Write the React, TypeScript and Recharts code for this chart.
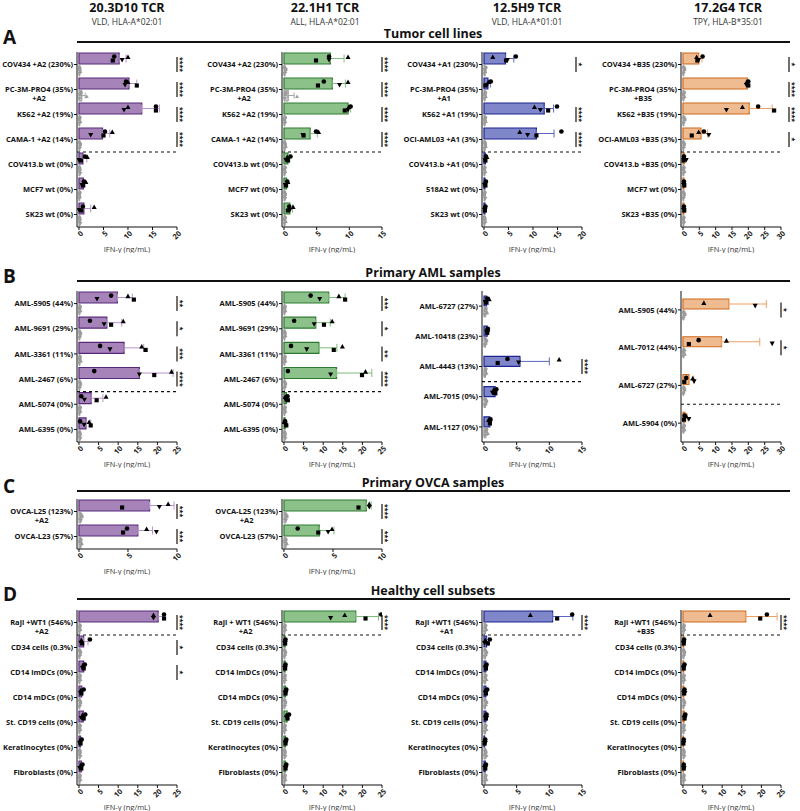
import React from "react";
import {
  ComposedChart,
  Bar,
  Scatter,
  XAxis,
  YAxis,
  ErrorBar,
  ReferenceLine,
} from "recharts";

// ---- headers ----
const TCRS = ["20.3D10 TCR", "22.1H1 TCR", "12.5H9 TCR", "17.2G4 TCR"];
const EPITOPES = ["VLD, HLA-A*02:01", "ALL, HLA-A*02:01", "VLD, HLA-A*01:01", "TPY, HLA-B*35:01"];
const SECTION_LETTERS = ["A", "B", "C", "D"];
const SECTION_TITLES = ["Tumor cell lines", "Primary AML samples", "Primary OVCA samples", "Healthy cell subsets"];

const TICKS_10 = [0, 5, 10];
const TICKS_15 = [0, 5, 10, 15];
const TICKS_20 = [0, 5, 10, 15, 20];
const TICKS_25 = [0, 5, 10, 15, 20, 25];
const TICKS_30 = [0, 5, 10, 15, 20, 25, 30];

// replicate order in every row: circle, square, triangle, inverted triangle

// ---- A: tumor cell lines ----
const A1_LABELS = ["COV434 +A2 (230%)", "PC-3M-PRO4 (35%)\n+A2", "K562 +A2 (19%)", "CAMA-1 +A2 (14%)", "COV413.b wt (0%)", "MCF7 wt (0%)", "SK23 wt (0%)"];
const A1_MEAN = [8.2, 10.2, 12.8, 4.8, 0.8, 0.9, 1.0];
const A1_SD = [1.4, 1.6, 3.6, 1.5, 0.8, 0.4, 1.4];
const A1_REPS = [[7.2, 6.9, 10.0, 8.8], [9.6, 11.8, 10.0, 9.4], [15.7, 15.7, 10.0, 9.2], [5.3, 5.0, 6.8, 2.4], [1.2, 0.4, 1.7, 0.0], [1.0, 0.8, 1.4, 0.6], [0.8, 0.5, 3.1, 0.0]];
const A1_MOCK = [[0.1, 0.2, 0.3, 0.1], [0.4, 0.2, 1.6, 0.1], [0.2, 0.1, 0.3, 0.1], [0.1, 0.3, 0.2, 0.1], [0.1, 0.2, 0.1, 0.3], [0.2, 0.1, 0.2, 0.1], [0.1, 0.2, 0.1, 0.3]];
const A1_SIG = ["****", "****", "****", "****", "", "", ""];

const A2_MEAN = [7.1, 7.4, 9.8, 4.0, 0.6, 0.4, 0.9];
const A2_SD = [2.1, 2.0, 0.4, 1.1, 0.3, 0.2, 0.4];
const A2_REPS = [[6.9, 4.9, 9.8, 6.9], [6.1, 5.2, 9.8, 8.5], [10.2, 9.3, 9.9, 9.8], [4.9, 3.0, 5.3, 2.9], [1.0, 0.6, 0.5, 0.3], [0.5, 0.3, 0.6, 0.2], [0.8, 0.6, 1.4, 0.9]];
const A2_MOCK = [[0.1, 0.3, 0.2, 0.1], [0.3, 0.2, 2.0, 0.1], [0.2, 0.1, 0.2, 0.1], [0.1, 0.2, 0.3, 0.1], [0.2, 0.1, 0.2, 0.1], [0.1, 0.2, 0.1, 0.2], [0.2, 0.1, 0.3, 0.1]];
const A2_SIG = ["****", "****", "****", "****", "", "", ""];

const A3_LABELS = ["COV434 +A1 (230%)", "PC-3M-PRO4 (35%)\n+A1", "K562 +A1 (19%)", "OCI-AML03 +A1 (3%)", "COV413.b +A1 (0%)", "518A2 wt (0%)", "SK23 wt (0%)"];
const A3_MEAN = [4.4, 0.8, 12.3, 10.7, 0.3, 0.2, 0.2];
const A3_SD = [1.7, 0.5, 1.9, 3.6, 0.2, 0.1, 0.1];
const A3_REPS = [[6.5, 4.5, 1.8, 4.8], [1.4, 0.3, 0.9, 0.6], [14.9, 13.1, 10.3, 11.5], [15.8, 10.7, 7.3, 8.9], [0.4, 0.3, 0.6, 0.2], [0.4, 0.3, 0.2, 0.1], [0.3, 0.2, 0.1, 0.2]];
const A3_MOCK = [[0.4, 0.2, 0.3, 0.1], [0.3, 0.2, 0.4, 0.1], [0.3, 0.2, 0.4, 0.1], [0.2, 0.3, 0.4, 0.1], [0.2, 0.1, 0.3, 0.1], [0.2, 0.1, 0.2, 0.3], [0.1, 0.2, 0.3, 0.1]];
const A3_SIG = ["*", "", "****", "****", "", "", ""];

const A4_LABELS = ["COV434 +B35 (230%)", "PC-3M-PRO4 (35%)\n+B35", "K562 +B35 (19%)", "OCI-AML03 +B35 (3%)", "COV413.b +B35 (0%)", "MCF7 wt (0%)", "SK23 +B35 (0%)"];
const A4_MEAN = [4.8, 19.7, 20.3, 5.5, 0.4, 0.3, 0.3];
const A4_SD = [1.0, 0.3, 7.0, 2.0, 0.3, 0.1, 0.1];
const A4_REPS = [[6.0, 4.4, 4.2, 4.8], [20.0, 20.0, 19.5, 19.4], [23.0, 27.9, 18.2, 13.3], [6.4, 2.7, 4.8, 7.9], [0.3, 0.2, 0.2, 1.0], [0.3, 0.4, 0.2, 0.3], [0.3, 0.4, 0.2, 0.3]];
const A4_MOCK = [[0.3, 0.5, 0.2, 0.1], [0.4, 0.2, 0.5, 0.1], [0.3, 0.6, 0.2, 0.1], [0.2, 0.4, 0.3, 0.1], [0.3, 0.2, 0.5, 0.1], [0.2, 0.4, 0.3, 0.1], [0.3, 0.1, 0.4, 0.2]];
const A4_SIG = ["*", "****", "****", "*", "", "", ""];

// ---- B: primary AML samples ----
const B1_LABELS = ["AML-5905 (44%)", "AML-9691 (29%)", "AML-3361 (11%)", "AML-2467 (6%)", "AML-5074 (0%)", "AML-6395 (0%)"];
const B1_MEAN = [9.8, 7.1, 11.5, 15.4, 3.1, 1.8];
const B1_SD = [3.8, 3.8, 5.0, 8.6, 3.0, 1.2];
const B1_REPS = [[8.2, 14.0, 12.5, 4.6], [2.8, 8.2, 11.3, 6.4], [5.4, 17.0, 16.0, 7.9], [3.9, 19.2, 23.6, 15.4], [0.6, 4.5, 6.9, 1.4], [0.3, 3.0, 2.6, 1.3]];
const B1_MOCK = [[0.3, 0.2, 0.4, 0.1], [0.2, 0.4, 0.3, 0.1], [0.3, 0.2, 0.5, 0.1], [0.2, 0.4, 0.3, 0.1], [0.3, 0.2, 0.4, 0.1], [0.2, 0.3, 0.1, 0.4]];
const B1_SIG = ["**", "*", "***", "****", "", ""];

const B2_MEAN = [11.4, 8.1, 8.9, 13.4, 0.6, 0.3];
const B2_SD = [4.2, 3.7, 4.6, 9.0, 0.4, 0.3];
const B2_REPS = [[6.8, 15.6, 14.0, 9.1], [2.6, 10.2, 12.3, 7.7], [1.8, 12.7, 14.9, 5.8], [1.0, 19.9, 20.8, 11.9], [0.9, 1.0, 0.3, 0.4], [0.3, 0.6, 0.0, 0.4]];
const B2_MOCK = [[0.3, 0.2, 0.4, 0.1], [0.2, 0.3, 0.4, 0.1], [0.3, 0.2, 0.4, 0.1], [0.2, 0.4, 0.3, 0.1], [0.3, 0.2, 0.4, 0.1], [0.2, 0.3, 0.1, 0.4]];
const B2_SIG = ["***", "*", "**", "****", "", ""];

const B3_LABELS = ["AML-6727 (27%)", "AML-10418 (23%)", "AML-4443 (13%)", "AML-7015 (0%)", "AML-1127 (0%)"];
const B3_MEAN = [0.4, 0.5, 5.5, 1.7, 0.9];
const B3_SD = [0.3, 0.1, 4.5, 0.3, 0.2];
const B3_REPS = [[0.5, 0.3, 0.8, 0.2], [0.6, 0.5, 0.4, 0.6], [3.6, 2.1, 11.5, 5.3], [1.9, 1.7, 1.5, 1.3], [1.0, 0.9, 0.7, 0.9]];
const B3_MOCK = [[0.3, 0.2, 0.5, 0.1], [0.2, 0.4, 0.3, 0.1], [0.3, 0.2, 0.4, 0.1], [0.2, 0.4, 0.3, 0.1], [0.4, 0.2, 0.6, 0.1]];
const B3_SIG = ["", "", "****", "", ""];

const B4_LABELS = ["AML-5905 (44%)", "AML-7012 (44%)", "AML-6727 (27%)", "AML-5904 (0%)"];
const B4_MEAN = [14.0, 11.8, 1.8, 0.6];
const B4_SD = [11.5, 11.7, 1.5, 0.7];
const B4_REPS = [[null, null, 6.4, 22.1], [4.8, 1.8, 13.3, 27.3], [1.0, 0.4, 3.0, 3.4], [0.5, 0.3, 1.0, 1.8]];
const B4_MOCK = [[0.3, 0.6, 0.2, 0.1], [0.4, 0.2, 0.6, 0.1], [0.3, 0.5, 0.2, 0.1], [0.4, 0.2, 0.5, 0.1]];
const B4_SIG = ["*", "*", "", ""];

// ---- C: primary OVCA samples ----
const C_LABELS = ["OVCA-L25 (123%)\n+A2", "OVCA-L23 (57%)"];
const C1_MEAN = [7.2, 6.0];
const C1_SD = [2.5, 1.5];
const C1_REPS = [[null, 4.4, 9.1, 8.2], [4.9, 4.5, 6.9, 7.9]];
const C1_MOCK = [[0.2, 0.3, 0.1, 0.2], [0.2, 0.1, 0.3, 0.2]];
const C1_SIG = ["***", "***"];

const C2_MEAN = [8.4, 3.6];
const C2_SD = [0.5, 1.5];
const C2_REPS = [[null, 7.6, 8.7, 8.7], [1.4, 3.5, 4.9, 4.5]];
const C2_MOCK = [[0.2, 0.3, 0.1, 0.2], [0.2, 0.1, 0.3, 0.2]];
const C2_SIG = ["****", "***"];

// ---- D: healthy cell subsets ----
const D_REST = ["CD34 cells (0.3%)", "CD14 imDCs (0%)", "CD14 mDCs (0%)", "St. CD19 cells (0%)", "Keratinocytes (0%)", "Fibroblasts (0%)"];
const D1_LABELS = ["Raji +WT1 (546%)\n+A2", ...D_REST];
const D2_LABELS = ["Raji + WT1 (546%)\n+A2", ...D_REST];
const D3_LABELS = ["Raji +WT1 (546%)\n+A1", ...D_REST];
const D4_LABELS = ["Raji +WT1 (546%)\n+B35", ...D_REST];

const D1_MEAN = [20.2, 1.2, 1.2, 0.7, 1.1, 0.4, 0.6];
const D1_SD = [1.3, 1.1, 0.3, 0.3, 0.4, 0.2, 0.3];
const D1_REPS = [[21.7, 21.7, 19.0, 19.0], [2.8, 0.8, 0.6, 0.5], [1.5, 1.2, 1.0, 0.9], [1.2, 0.6, 0.5, 0.4], [1.6, 1.2, 0.9, 0.6], [0.7, 0.4, 0.3, 0.2], [0.9, 0.6, 0.5, 0.2]];
const D1_SIG = ["****", "*", "*", "", "", "", ""];

const D2_MEAN = [18.3, 0.3, 0.3, 0.4, 0.8, 0.4, 0.4];
const D2_SD = [5.8, 0.1, 0.1, 0.2, 0.4, 0.2, 0.2];
const D2_REPS = [[24.8, 20.8, 15.5, 11.9], [0.4, 0.3, 0.2, 0.3], [0.4, 0.3, 0.2, 0.3], [0.6, 0.4, 0.3, 0.5], [1.3, 0.9, 0.6, 0.8], [0.6, 0.4, 0.3, 0.5], [0.6, 0.4, 0.3, 0.5]];
const D2_SIG = ["****", "", "", "", "", "", ""];

const D3_MEAN = [10.5, 0.4, 0.3, 0.3, 0.3, 0.1, 0.2];
const D3_SD = [3.1, 0.3, 0.1, 0.1, 0.1, 0.1, 0.1];
const D3_REPS = [[13.5, 11.2, 7.1, null], [0.9, 0.6, 0.2, 0.1], [0.4, 0.3, 0.2, 0.3], [0.5, 0.3, 0.2, 0.3], [0.4, 0.3, 0.2, 0.4], [0.2, 0.1, 0.1, 0.2], [0.3, 0.2, 0.1, 0.2]];
const D3_SIG = ["****", "", "", "", "", "", ""];

const D4_MEAN = [16.0, 0.2, 0.2, 0.2, 0.3, 0.1, 0.1];
const D4_SD = [8.0, 0.1, 0.1, 0.1, 0.2, 0.1, 0.1];
const D4_REPS = [[21.4, 19.7, 6.9, null], [0.3, 0.2, 0.1, 0.2], [0.4, 0.2, 0.1, 0.2], [0.4, 0.3, 0.2, 0.5], [0.6, 0.4, 0.3, 0.5], [0.2, 0.1, 0.1, 0.2], [0.2, 0.2, 0.1, 0.3]];
const D4_SIG = ["****", "", "", "", "", "", ""];

const D_MOCK = [[0.3, 0.2, 0.4, 0.1], [0.2, 0.4, 0.3, 0.1], [0.3, 0.2, 0.4, 0.1], [0.2, 0.4, 0.3, 0.1], [0.3, 0.2, 0.4, 0.1], [0.2, 0.3, 0.1, 0.4], [0.3, 0.2, 0.4, 0.1]];

// ---- layout ----
const FONT = "'Open Sans', Lato, sans-serif";
const COL_X = [77, 282, 482, 681]; // x of each column's value axis
const HEAD_X = [127, 325, 527, 728];
const ROW_TOP = [52, 291, 499, 610];
const ROW_H = [175, 151, 50, 175];
const RULE_Y = [42, 281, 491, 599];
const PW = 100;
const YW = 92;
const RW = 19;
const MT = 2;
const XH = 26;

const PALETTE: Record<string, { fill: string; stroke: string; err: string }> = {
  purple: { fill: "#a684ba", stroke: "#57287a", err: "#b894cc" },
  green: { fill: "#8cc28a", stroke: "#2c7a30", err: "#7dbb7a" },
  blue: { fill: "#7f86c9", stroke: "#1d2590", err: "#5b67c2" },
  orange: { fill: "#efbb91", stroke: "#cf6a1c", err: "#efa062" },
};
const COLORS = ["purple", "green", "blue", "orange"];
const SYMBOLS = ["circle", "square", "triangle", "down"];
const JITTER = [-2, 2, -1.5, 1.5];
const GREY_JITTER = [-3, -1, 1, 3];

let measureCtx: CanvasRenderingContext2D | null = null;
function textWidth(s: string, font: string) {
  if (!measureCtx) measureCtx = document.createElement("canvas").getContext("2d");
  if (!measureCtx) return s.length * 4;
  measureCtx.font = font;
  return measureCtx.measureText(s).width;
}

const avg = (v: number[]) => v.reduce((a, b) => a + b, 0) / v.length;
const stdev = (v: number[]) => {
  const m = avg(v);
  return Math.sqrt(v.reduce((a, b) => a + (b - m) * (b - m), 0) / (v.length - 1));
};

function symbol(kind: string, x: number, y: number, s: number, fill: string) {
  const h = s * 0.55;
  if (kind === "circle") return <circle cx={x} cy={y} r={s * 0.5} fill={fill} />;
  if (kind === "square")
    return <rect x={x - s * 0.45} y={y - s * 0.45} width={s * 0.9} height={s * 0.9} fill={fill} />;
  if (kind === "triangle")
    return <polygon points={`${x},${y - h} ${x + h},${y + s * 0.45} ${x - h},${y + s * 0.45}`} fill={fill} />;
  return <polygon points={`${x},${y + h} ${x + h},${y - s * 0.45} ${x - h},${y - s * 0.45}`} fill={fill} />;
}

const pointShape = (key: string, kind: string, dy: number, size: number, fill: string) => (p: any) => {
  const v = p.payload ? p.payload[key] : null;
  if (v == null || p.cx == null || p.cy == null || isNaN(p.cx)) return <g />;
  return symbol(kind, p.cx, p.cy + dy, size, fill);
};

function YTick(p: any) {
  const { x, y, payload, index, sig, sigDx } = p;
  const font = `bold 7.5px ${FONT}`;
  const lines = String(payload.value).split("\n");
  const w0 = textWidth(lines[0], font);
  const stars: string = sig[index] || "";
  const sx = x + 4 + PW + sigDx;
  return (
    <g>
      {lines.map((ln, i) => (
        <text
          key={i}
          x={i === 0 ? x : x - w0 / 2}
          y={y + i * 9}
          dy="0.35em"
          textAnchor={i === 0 ? "end" : "middle"}
          fontFamily={FONT}
          fontWeight="bold"
          fontSize={7.5}
          fill="#111"
        >
          {ln}
        </text>
      ))}
      {stars && (
        <g>
          <line x1={sx} x2={sx} y1={y - 7.5} y2={y + 7.5} stroke="#111" strokeWidth={1.2} />
          <text
            transform={`translate(${sx + 5},${y}) rotate(90)`}
            x={0}
            y={0}
            dy="0.55em"
            textAnchor="middle"
            fontFamily={FONT}
            fontWeight="bold"
            fontSize={7}
            fill="#111"
          >
            {stars}
          </text>
        </g>
      )}
    </g>
  );
}

function XTick(p: any) {
  const { x, y, payload } = p;
  return (
    <g transform={`translate(${x + 3},${y}) rotate(-45)`}>
      <text x={0} y={0} dy="0.35em" textAnchor="end" fontFamily={FONT} fontWeight="bold" fontSize={7.5} fill="#222">
        {payload.value}
      </text>
    </g>
  );
}

interface PanelProps {
  labels: string[];
  mean: number[];
  sd: number[];
  reps: (number | null)[][];
  mock: number[][];
  sig: string[];
  dashAt: number;
  ticks: number[];
  col: number;
  row: number;
  barSize?: number;
  sigDx?: number;
}

function Panel({ labels, mean, sd, reps, mock, sig, dashAt, ticks, col, row, barSize = 11, sigDx = 0 }: PanelProps) {
  const c = PALETTE[COLORS[col]];
  const xMax = ticks[ticks.length - 1];
  const plotH = ROW_H[row];
  const data = labels.map((name, i) => {
    const d: any = {
      name,
      mean: mean[i],
      err: [0, sd[i]],
      mock: avg(mock[i]),
      mockErr: [0, stdev(mock[i])],
    };
    reps[i].forEach((v, k) => (d["r" + k] = v));
    mock[i].forEach((v, k) => (d["g" + k] = v));
    return d;
  });
  const half = (barSize + 1) / 2;
  return (
    <div style={{ position: "absolute", left: COL_X[col] - YW, top: ROW_TOP[row] - MT }}>
      <ComposedChart
        layout="vertical"
        width={YW + PW + RW}
        height={MT + plotH + XH}
        data={data}
        margin={{ top: MT, right: RW, bottom: 0, left: 0 }}
        barGap={1}
        barSize={barSize}
      >
        <XAxis
          type="number"
          domain={[-xMax * 0.02, xMax]}
          ticks={ticks}
          allowDataOverflow
          interval={0}
          height={XH}
          tickSize={3}
          axisLine={{ stroke: "#111", strokeWidth: 1 }}
          tickLine={{ stroke: "#111" }}
          tick={XTick}
          label={{
            value: "IFN-γ (ng/mL)",
            position: "insideBottom",
            offset: 1,
            fill: "#333",
            fontFamily: FONT,
            fontSize: 7.5,
          }}
        />
        <YAxis
          type="category"
          dataKey="name"
          width={YW}
          interval={0}
          tickSize={3}
          tickMargin={1}
          axisLine={{ stroke: "#111", strokeWidth: 1 }}
          tickLine={{ stroke: "#111" }}
          tick={(p: any) => <YTick {...p} sig={sig} sigDx={sigDx} />}
        />
        {dashAt >= 0 && (
          <ReferenceLine
            y={labels[dashAt]}
            position="start"
            stroke="#111"
            strokeWidth={1.2}
            strokeDasharray="3 3"
          />
        )}
        <Bar dataKey="mean" fill={c.fill} stroke={c.stroke} strokeWidth={1.2} isAnimationActive={false}>
          <ErrorBar dataKey="err" direction="x" width={4} stroke={c.err} strokeWidth={1} />
        </Bar>
        <Bar dataKey="mock" fill="#c9c9c9" stroke="#9a9a9a" strokeWidth={1} isAnimationActive={false}>
          <ErrorBar dataKey="mockErr" direction="x" width={3} stroke="#a5a5a5" strokeWidth={1} />
        </Bar>
        {SYMBOLS.map((kind, k) => (
          <Scatter
            key={"g" + k}
            dataKey={"g" + k}
            isAnimationActive={false}
            shape={pointShape("g" + k, kind, half + GREY_JITTER[k], 3.6, "#9b9b9b")}
          />
        ))}
        {SYMBOLS.map((kind, k) => (
          <Scatter
            key={"r" + k}
            dataKey={"r" + k}
            isAnimationActive={false}
            shape={pointShape("r" + k, kind, -half + JITTER[k], 4.6, "#000")}
          />
        ))}
      </ComposedChart>
    </div>
  );
}

const PANELS: PanelProps[] = [
  { labels: A1_LABELS, mean: A1_MEAN, sd: A1_SD, reps: A1_REPS, mock: A1_MOCK, sig: A1_SIG, dashAt: 4, ticks: TICKS_20, col: 0, row: 0 },
  { labels: A1_LABELS, mean: A2_MEAN, sd: A2_SD, reps: A2_REPS, mock: A2_MOCK, sig: A2_SIG, dashAt: 4, ticks: TICKS_15, col: 1, row: 0 },
  { labels: A3_LABELS, mean: A3_MEAN, sd: A3_SD, reps: A3_REPS, mock: A3_MOCK, sig: A3_SIG, dashAt: 4, ticks: TICKS_20, col: 2, row: 0, sigDx: -6 },
  { labels: A4_LABELS, mean: A4_MEAN, sd: A4_SD, reps: A4_REPS, mock: A4_MOCK, sig: A4_SIG, dashAt: 4, ticks: TICKS_30, col: 3, row: 0, sigDx: 8 },
  { labels: B1_LABELS, mean: B1_MEAN, sd: B1_SD, reps: B1_REPS, mock: B1_MOCK, sig: B1_SIG, dashAt: 4, ticks: TICKS_25, col: 0, row: 1 },
  { labels: B1_LABELS, mean: B2_MEAN, sd: B2_SD, reps: B2_REPS, mock: B2_MOCK, sig: B2_SIG, dashAt: 4, ticks: TICKS_25, col: 1, row: 1 },
  { labels: B3_LABELS, mean: B3_MEAN, sd: B3_SD, reps: B3_REPS, mock: B3_MOCK, sig: B3_SIG, dashAt: 3, ticks: TICKS_15, col: 2, row: 1, barSize: 10 },
  { labels: B4_LABELS, mean: B4_MEAN, sd: B4_SD, reps: B4_REPS, mock: B4_MOCK, sig: B4_SIG, dashAt: 3, ticks: TICKS_30, col: 3, row: 1, barSize: 10 },
  { labels: C_LABELS, mean: C1_MEAN, sd: C1_SD, reps: C1_REPS, mock: C1_MOCK, sig: C1_SIG, dashAt: -1, ticks: TICKS_10, col: 0, row: 2 },
  { labels: C_LABELS, mean: C2_MEAN, sd: C2_SD, reps: C2_REPS, mock: C2_MOCK, sig: C2_SIG, dashAt: -1, ticks: TICKS_10, col: 1, row: 2 },
  { labels: D1_LABELS, mean: D1_MEAN, sd: D1_SD, reps: D1_REPS, mock: D_MOCK, sig: D1_SIG, dashAt: 1, ticks: TICKS_25, col: 0, row: 3 },
  { labels: D2_LABELS, mean: D2_MEAN, sd: D2_SD, reps: D2_REPS, mock: D_MOCK, sig: D2_SIG, dashAt: 1, ticks: TICKS_25, col: 1, row: 3 },
  { labels: D3_LABELS, mean: D3_MEAN, sd: D3_SD, reps: D3_REPS, mock: D_MOCK, sig: D3_SIG, dashAt: 1, ticks: TICKS_15, col: 2, row: 3 },
  { labels: D4_LABELS, mean: D4_MEAN, sd: D4_SD, reps: D4_REPS, mock: D_MOCK, sig: D4_SIG, dashAt: 1, ticks: TICKS_25, col: 3, row: 3 },
];

export default function App() {
  return (
    <div
      style={{
        position: "absolute",
        left: 0,
        top: 0,
        width: 800,
        height: 811,
        overflow: "hidden",
        background: "#fff",
      }}
    >
      <svg width={800} height={811} style={{ position: "absolute", left: 0, top: 0 }}>
        {TCRS.map((t, i) => (
          <g key={t}>
            <text x={HEAD_X[i]} y={11.5} textAnchor="middle" fontFamily={FONT} fontWeight="bold" fontSize={12.5} fill="#111">
              {t}
            </text>
            <text x={HEAD_X[i]} y={24.5} textAnchor="middle" fontFamily={FONT} fontSize={8.5} fill="#333">
              {EPITOPES[i]}
            </text>
          </g>
        ))}
        {SECTION_TITLES.map((t, i) => (
          <g key={t}>
            <text x={3} y={RULE_Y[i] + 2} fontFamily={FONT} fontWeight="bold" fontSize={19} fill="#111">
              {SECTION_LETTERS[i]}
            </text>
            <text x={433} y={RULE_Y[i] - 4} textAnchor="middle" fontFamily={FONT} fontWeight="bold" fontSize={12.5} fill="#111">
              {t}
            </text>
            <line x1={77} x2={790} y1={RULE_Y[i]} y2={RULE_Y[i]} stroke="#111" strokeWidth={2} />
          </g>
        ))}
      </svg>
      {PANELS.map((p, i) => (
        <Panel key={i} {...p} />
      ))}
    </div>
  );
}
